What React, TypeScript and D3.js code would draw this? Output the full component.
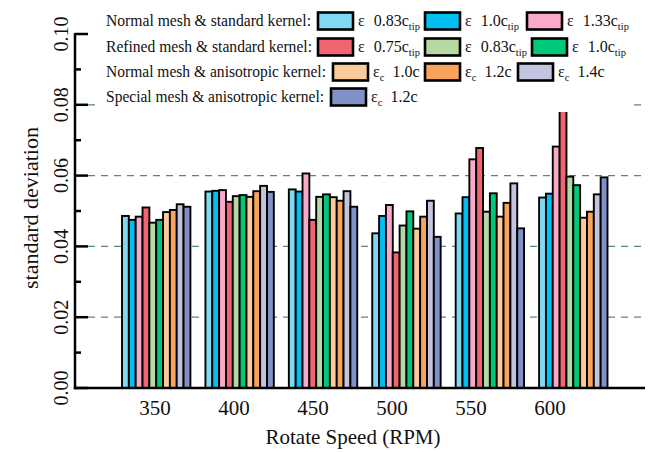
import React from 'react';
import * as d3 from 'd3';

// ---- data ----
const categories = ['350', '400', '450', '500', '550', '600'];
const yTicks = [0, 0.02, 0.04, 0.06, 0.08, 0.1];
const gridTicks = [0.02, 0.04, 0.06, 0.08];

const normalStd083 = [0.0486, 0.0555, 0.0561, 0.0437, 0.0493, 0.0538];
const normalStd100 = [0.0475, 0.0557, 0.0555, 0.0486, 0.0539, 0.0549];
const normalStd133 = [0.0484, 0.0559, 0.0606, 0.0517, 0.0646, 0.0682];
const refinedStd075 = [0.051, 0.0526, 0.0475, 0.0383, 0.0678, 0.085];
const refinedStd083 = [0.0467, 0.0542, 0.054, 0.0459, 0.0498, 0.0597];
const refinedStd100 = [0.0475, 0.0545, 0.0547, 0.0499, 0.055, 0.0573];
const normalAniso10 = [0.0497, 0.054, 0.0539, 0.045, 0.0484, 0.0481];
const normalAniso12 = [0.0503, 0.0556, 0.0529, 0.0484, 0.0523, 0.0498];
const normalAniso14 = [0.0519, 0.0571, 0.0556, 0.0529, 0.0578, 0.0547];
const specialAniso12 = [0.0512, 0.0554, 0.0512, 0.0427, 0.0451, 0.0595];

const seriesValues = [
  normalStd083, normalStd100, normalStd133,
  refinedStd075, refinedStd083, refinedStd100,
  normalAniso10, normalAniso12, normalAniso14,
  specialAniso12,
];
const seriesColors = [
  '#80d9f3', '#00bff2', '#fba9ca',
  '#f2646f', '#b5d9a0', '#00c878',
  '#fccb9c', '#f9a45c', '#c3c4de',
  '#7f91c7',
];
// legend label parts: [symbol subscript, value text, value subscript]
const seriesSymSub = ['', '', '', '', '', '', 'c', 'c', 'c', 'c'];
const seriesValText = ['0.83c', '1.0c', '1.33c', '0.75c', '0.83c', '1.0c', '1.0c', '1.2c', '1.4c', '1.2c'];
const seriesValSub = ['tip', 'tip', 'tip', 'tip', 'tip', 'tip', '', '', '', ''];

const legendRowLabels = [
  'Normal mesh & standard kernel:',
  'Refined mesh & standard kernel:',
  'Normal mesh & anisotropic kernel:',
  'Special mesh & anisotropic kernel:',
];
const legendRowItems = [[0, 1, 2], [3, 4, 5], [6, 7, 8], [9]];

// ---- layout ----
const W = 649;
const H = 452;
const axisX = 75;
const axisRight = 645;
const FONT = '"Liberation Serif", "Times New Roman", serif';
const legendSwatchX = [[318, 425, 527], [318, 425, 532], [333, 425, 518], [331]];
const legendLabelWidth = [205, 206, 220, 218];
const legendRowY = [21, 47, 72, 97];

export default function App() {
  const y = d3.scaleLinear().domain([0, 0.1]).range([388, 34]);
  const xGroup = d3.scaleBand<string>().domain(categories).range([114.5, 615]).paddingInner(0.18).paddingOuter(0.09);
  const xInner = d3.scaleBand<number>().domain(d3.range(seriesValues.length)).range([0, xGroup.bandwidth()]);
  const xLabel = d3.scalePoint<string>().domain(categories).range([155, 550]);
  const minorTicks = d3.range(0.01, 0.1, 0.02);

  return (
    <svg width={W} height={H} style={{ position: 'absolute', left: 0, top: 0, background: '#fff' }} fontFamily={FONT}>
      <rect x={0} y={0} width={W} height={H} fill="#fff" />
      {/* grid */}
      {gridTicks.map((t) => (
        <line key={t} x1={axisX + 13} x2={axisRight} y1={y(t)} y2={y(t)} stroke="#5a897b" strokeWidth={1.3} strokeDasharray="7,6" />
      ))}
      {/* bars */}
      {categories.map((c, ci) => (
        <g key={c} transform={`translate(${xGroup(c)},0)`}>
          {seriesValues.map((vals, si) => (
            <rect
              key={si}
              x={xInner(si)}
              y={y(vals[ci])}
              width={xInner.bandwidth()}
              height={y(0) - y(vals[ci])}
              fill={seriesColors[si]}
              stroke="#000"
              strokeWidth={1.9}
            />
          ))}
        </g>
      ))}
      {/* legend */}
      <rect x={97} y={0} width={532} height={112} fill="#fff" />
      {legendRowLabels.map((lab, ri) => (
        <g key={lab}>
          <text x={106} y={legendRowY[ri] + 5} fontSize={16} fill="#111" textLength={legendLabelWidth[ri]} lengthAdjust="spacingAndGlyphs">{lab}</text>
          {legendRowItems[ri].map((si, k) => {
            const sx = legendSwatchX[ri][k];
            const cy = legendRowY[ri];
            return (
              <g key={si}>
                <rect x={sx} y={cy - 8.5} width={35} height={17} fill={seriesColors[si]} stroke="#000" strokeWidth={2.6} />
                <text x={sx + 40} y={cy + 5} fontSize={16} fill="#111">
                  ε
                  {seriesSymSub[si] ? <tspan fontSize={10.5} dy={4}>{seriesSymSub[si]}</tspan> : null}
                  <tspan dx={seriesSymSub[si] ? 8 : 9} dy={seriesSymSub[si] ? -4 : 0}>{seriesValText[si]}</tspan>
                  {seriesValSub[si] ? <tspan fontSize={10.5} dy={4}>{seriesValSub[si]}</tspan> : null}
                </text>
              </g>
            );
          })}
        </g>
      ))}
      {/* axes */}
      <line x1={axisX} x2={axisX} y1={y(0.1) - 1} y2={y(0) + 1.2} stroke="#000" strokeWidth={2.5} />
      <line x1={axisX - 1.2} x2={axisRight} y1={y(0)} y2={y(0)} stroke="#000" strokeWidth={2.5} />
      {yTicks.map((t) => (
        <line key={'M' + t} x1={axisX} x2={axisX + 13} y1={y(t)} y2={y(t)} stroke="#000" strokeWidth={2.5} />
      ))}
      {minorTicks.map((t) => (
        <line key={'m' + t} x1={axisX} x2={axisX + 6} y1={y(t)} y2={y(t)} stroke="#000" strokeWidth={2.5} />
      ))}
      {yTicks.map((t) => (
        <text key={'l' + t} transform={`translate(68,${y(t)}) rotate(-90)`} textAnchor="middle" fontSize={20} fill="#111">
          {t.toFixed(2)}
        </text>
      ))}
      {categories.map((c) => (
        <text key={'x' + c} x={xLabel(c)} y={415} textAnchor="middle" fontSize={21} fill="#111">{c}</text>
      ))}
      <text x={353} y={444} textAnchor="middle" fontSize={21} fill="#111">Rotate Speed (RPM)</text>
      <text transform="translate(38,208) rotate(-90)" textAnchor="middle" fontSize={22} fill="#111">standard deviation</text>
    </svg>
  );
}
